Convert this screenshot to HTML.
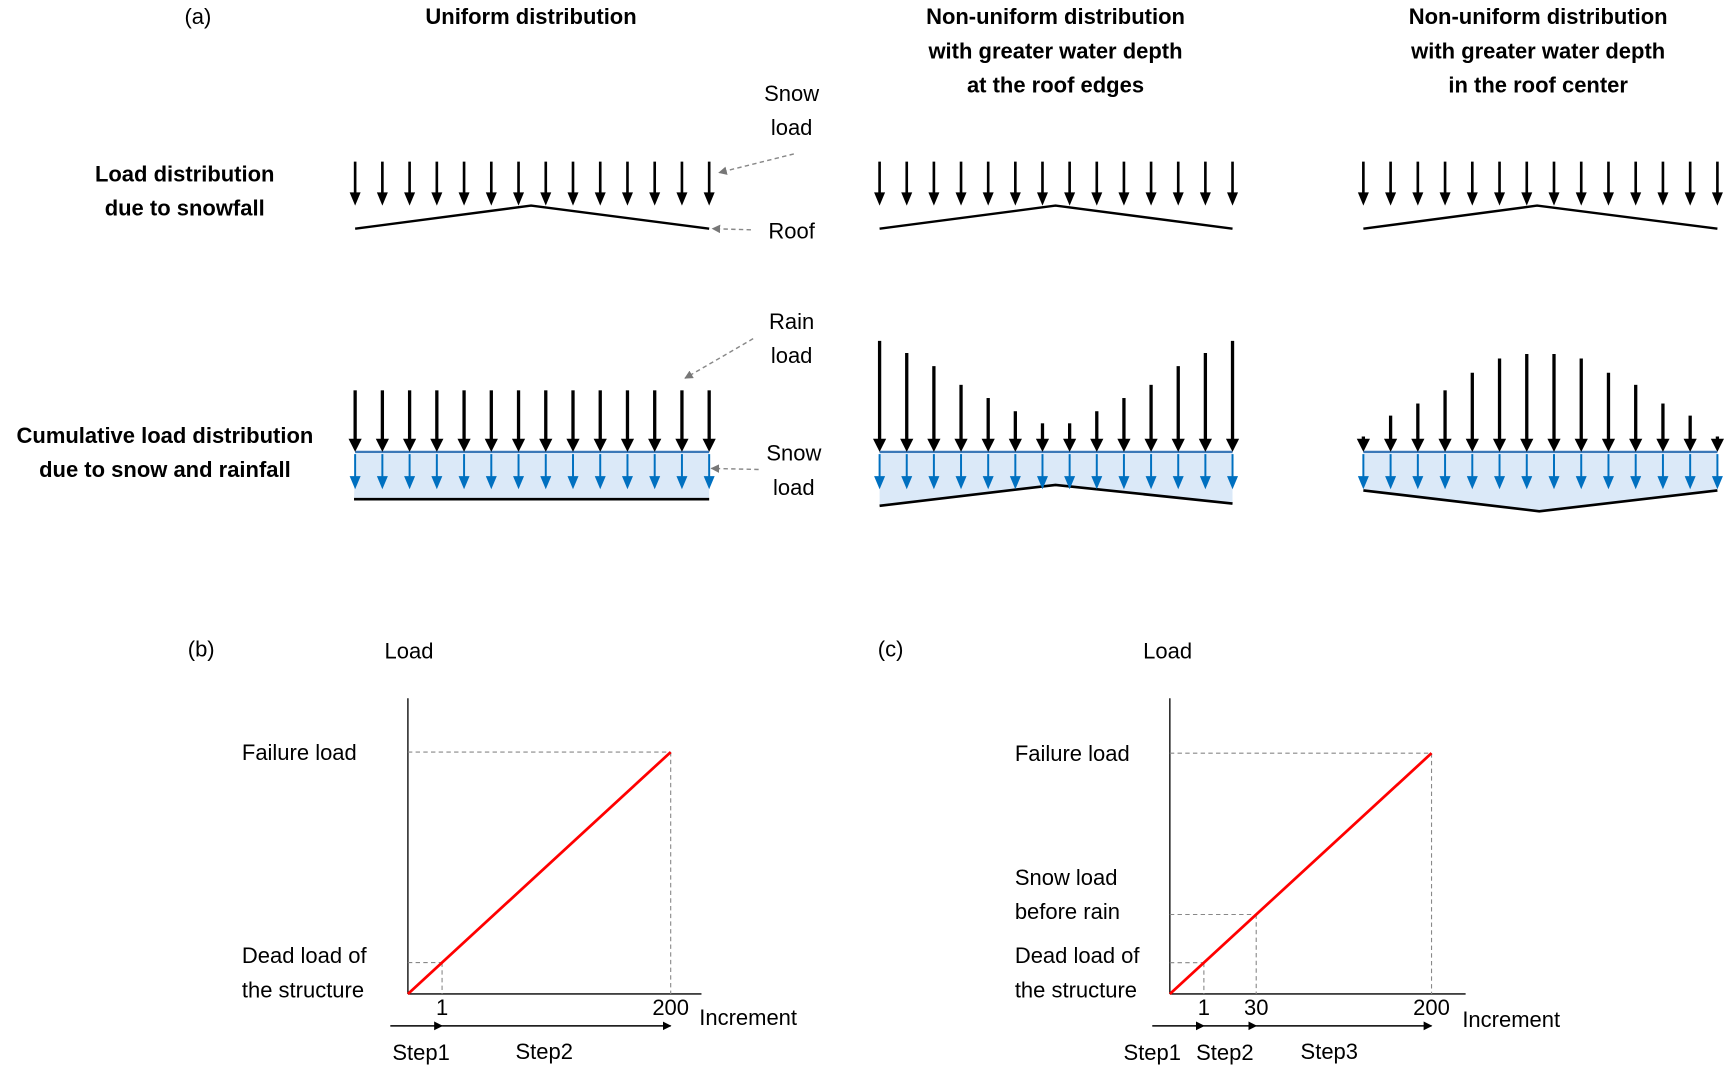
<!DOCTYPE html>
<html><head><meta charset="utf-8"><style>
html,body{margin:0;padding:0;background:#fff}
svg{display:block}
text{font-family:"Liberation Sans",sans-serif;font-size:20px;fill:#000}
.b{font-weight:bold;font-size:20px}
</style></head><body>
<svg id="s" xmlns="http://www.w3.org/2000/svg" width="1724" height="1065" viewBox="0 0 1568 968.6" preserveAspectRatio="none">
<defs>
<marker id="ah" viewBox="0 0 10 10" refX="9" refY="5" markerWidth="8" markerHeight="8" markerUnits="userSpaceOnUse" orient="auto"><path d="M0,0L10,5L0,10z" fill="#000"/></marker>
<marker id="ag" viewBox="0 0 10 10" refX="9" refY="5" markerWidth="6" markerHeight="6" orient="auto"><path d="M0,0L10,5L0,10z" fill="#777"/></marker>
</defs>
<g id="titles">
<text x="180" y="22" text-anchor="middle">(a)</text>
<text class="b" x="483" y="22" text-anchor="middle">Uniform distribution</text>
<text class="b" x="960" y="22" text-anchor="middle">Non-uniform distribution</text>
<text class="b" x="960" y="53" text-anchor="middle">with greater water depth</text>
<text class="b" x="960" y="84" text-anchor="middle">at the roof edges</text>
<text class="b" x="1399" y="22" text-anchor="middle">Non-uniform distribution</text>
<text class="b" x="1399" y="53" text-anchor="middle">with greater water depth</text>
<text class="b" x="1399" y="84" text-anchor="middle">in the roof center</text>
<text class="b" x="168" y="165" text-anchor="middle">Load distribution</text>
<text class="b" x="168" y="196" text-anchor="middle">due to snowfall</text>
<text class="b" x="150" y="403" text-anchor="middle">Cumulative load distribution</text>
<text class="b" x="150" y="434" text-anchor="middle">due to snow and rainfall</text>
<text x="720" y="92" text-anchor="middle">Snow</text>
<text x="720" y="123" text-anchor="middle">load</text>
<text x="720" y="217" text-anchor="middle">Roof</text>
<text x="720" y="299" text-anchor="middle">Rain</text>
<text x="720" y="330" text-anchor="middle">load</text>
<text x="722" y="419" text-anchor="middle">Snow</text>
<text x="722" y="450" text-anchor="middle">load</text>
<g stroke="#888" stroke-width="1.3" stroke-dasharray="4,3" fill="none">
<line x1="722" y1="140" x2="654" y2="157" marker-end="url(#ag)"/>
<line x1="683" y1="209" x2="648" y2="208" marker-end="url(#ag)"/>
<line x1="685" y1="308" x2="623" y2="344" marker-end="url(#ag)"/>
<line x1="690" y1="427" x2="647" y2="426" marker-end="url(#ag)"/>
</g>
</g>
<g id="diag"></g>
<g id="charts"></g>
</svg>
<script>
// rain arrow top y (display units) for each column
const uniformTops = [355,355,355,355,355,355,355,355,355,355,355,355,355,355];
const edgeTops = [310,321,333,350,362,374,385,385,374,362,350,333,321,310];
const centerTops = [397,378,367,355,339,326,322,322,326,339,350,367,378,397];
// chart data (increment, normalized load)
const incB = [0,1,200];
const loadB = [0,0.13,1];
const incC = [0,1,30,200];
const loadC = [0,0.13,0.33,1];
const tickB = ["1","200"];
const tickC = ["1","30","200"];

const NS="http://www.w3.org/2000/svg";
function mk(tag,attrs,parent){const e=document.createElementNS(NS,tag);for(const k in attrs)e.setAttribute(k,attrs[k]);parent.appendChild(e);return e;}
const diag=document.getElementById('diag');
function arrow(x,y1,y2,col,w,hw,parent){
  const g=mk('g',{},parent);
  mk('line',{x1:x,y1:y1,x2:x,y2:y2-9,stroke:col,'stroke-width':w},g);
  mk('path',{d:`M${x-hw},${y2-12}L${x+hw},${y2-12}L${x},${y2}z`,fill:col},g);
  return g;
}
function column(x0,x1,xc,tops,bottom){
  const n=tops.length, step=(x1-x0)/(n-1);
  for(let i=0;i<n;i++){const a=arrow(x0+i*step,147,187,'#000',2.4,5,diag);
    
    }
  const roof=mk('polyline',{points:`${x0},208 ${xc},187 ${x1},208`,fill:'none',stroke:'#000','stroke-width':2.2},diag);
  
  
  const box=mk('polygon',{points:`${x0},411 ${x1},411 `+bottom,fill:'#dbe9f8',stroke:'none'},diag);
  
  
  mk('line',{x1:x0,y1:411,x2:x1,y2:411,stroke:'#3b78b8','stroke-width':2},diag);
  const bl=mk('polyline',{points:bottom,fill:'none',stroke:'#000','stroke-width':2.4},diag);
  
  
  for(let i=0;i<n;i++){
    const x=x0+i*step;
    const r=arrow(x,tops[i],411,'#000',3,6,diag);
    
    
    const b=arrow(x,413,445,'#0070c0',1.8,5,diag);
    
    
  }
}
column(323,645,483,uniformTops,'645,454 322,454');
column(800,1121,960,edgeTops,'1121,458 960,441 800,460');
column(1240,1562,1398,centerTops,'1562,446 1400,465 1240,446');

const charts=document.getElementById('charts');
function chart(ox,oy,w,h,axw,incs,loads,ticks,tag){
  const sx=v=>ox+v*w, sy=v=>oy-v*h;
  const ax=mk('line',{x1:ox,y1:oy,x2:ox,y2:635,stroke:'#000','stroke-width':1.2},charts);
  
  
  const xa=mk('line',{x1:ox,y1:oy,x2:ox+axw,y2:oy,stroke:'#000','stroke-width':1.2},charts);
  
  
  for(let i=1;i<incs.length;i++){
    const px=sx(loads[i]), y=sy(loads[i]);
    const g=mk('g',{stroke:'#888','stroke-width':1,'stroke-dasharray':'4,3'},charts);
    
    
    mk('line',{x1:ox,y1:y,x2:px,y2:y},g);
    mk('line',{x1:px,y1:y,x2:px,y2:oy},g);
    const t=mk('text',{x:px,y:oy+19,'text-anchor':'middle'},charts);
    t.textContent=ticks[i-1];
    
    
    const a=mk('line',{x1:(i===1?ox-16:sx(loads[i-1])),y1:oy+29,x2:px,y2:oy+29,stroke:'#000','stroke-width':1.3,'marker-end':'url(#ah)'},charts);
    
    
  }
  const last=incs.length-1;
  const rl=mk('line',{x1:sx(0),y1:sy(0),x2:sx(loads[last]),y2:sy(loads[last]),stroke:'#f00','stroke-width':2.5},charts);
  
  
}
chart(371,904,239,220,267,incB,loadB,tickB,'b');
chart(1064,904,238,219,269,incC,loadC,tickC,'c');
const labels=[
 [183,597,'(b)','middle'],[372,599,'Load','middle'],[220,691,'Failure load','start'],[220,876,'Dead load of','start'],[220,907,'the structure','start'],
 [636,932,'Increment','start'],[383,964,'Step1','middle'],[495,963,'Step2','middle'],
 [810,597,'(c)','middle'],[1062,599,'Load','middle'],[923,692,'Failure load','start'],[923,805,'Snow load','start'],[923,836,'before rain','start'],[923,876,'Dead load of','start'],[923,907,'the structure','start'],
 [1330,934,'Increment','start'],[1048,964,'Step1','middle'],[1114,964,'Step2','middle'],[1209,963,'Step3','middle']];
for(const l of labels){
  const t=mk('text',{x:l[0],y:l[1],'text-anchor':l[3]},charts);
  t.textContent=l[2];
  
  
}
</script>
</body></html>
